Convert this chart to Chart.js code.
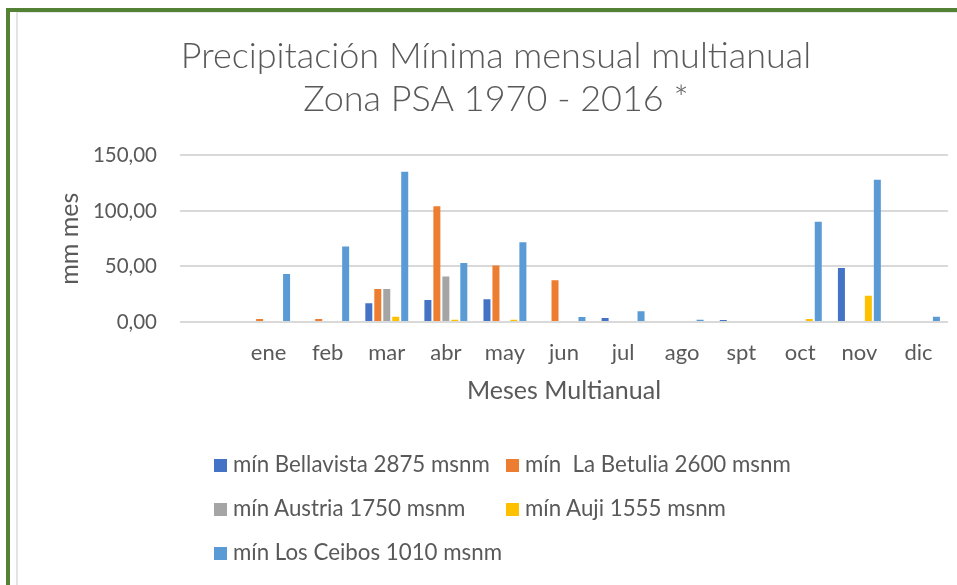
<!DOCTYPE html>
<html>
<head>
<meta charset="utf-8">
<script src="https://cdn.jsdelivr.net/npm/chart.js@4.4.1/dist/chart.umd.min.js"></script>
<style>
  body { margin: 0; background: #fff; }
  #wrap { position: relative; width: 957px; height: 585px; overflow: hidden; }
  #frame {
    position: absolute; left: 6px; top: 8px; width: 980px; height: 600px;
    border-left: 4px solid #548235; border-top: 4px solid #548235;
  }
  #inner {
    position: absolute; left: 16px; top: 12px; width: 980px; height: 600px;
    border-left: 2px solid #e3e3e3; border-top: 1px solid #e8e8e8;
  }
  canvas { position: absolute; left: 0; top: 0; }
  .leg {
    position: absolute; font-family: Lato, "Open Sans", sans-serif; font-size: 22.3px;
    color: #595959; line-height: 28px; white-space: pre;
  }
  .leg span.box {
    display: inline-block; width: 13px; height: 13px; margin-right: 6px; vertical-align: 0px;
  }
</style>
</head>
<body>
<div id="wrap">
  <div id="frame"></div>
  <div id="inner"></div>
  <canvas id="chart" width="957" height="585"></canvas>
  <div id="legend"></div>
</div>
<script>
// Categories (first slot is left empty in the original chart)
const months = ["", "ene", "feb", "mar", "abr", "may", "jun", "jul", "ago", "spt", "oct", "nov", "dic"];

// Minimum monthly precipitation (mm) per station
const bellavista = [null, null, null, 16.8, 19.8, 20.4, null, 3.6, null, 1.8, null, 48.7, null];
const laBetulia  = [null, 2.7, 2.7, 29.8, 104.3, 50.8, 37.6, null, null, null, null, null, null];
const austria    = [null, null, null, 29.8, 40.9, null, null, null, null, null, null, null, null];
const auji       = [null, null, null, 4.8, 2.1, 2.1, null, null, null, null, 2.7, 23.7, null];
const losCeibos  = [null, 43.3, 67.9, 135.3, 53.2, 71.8, 4.5, 9.6, 2.1, null, 90.2, 128.0, 4.8];

const seriesNames = [
  "mín Bellavista 2875 msnm",
  "mín  La Betulia 2600 msnm",
  "mín Austria 1750 msnm",
  "mín Auji 1555 msnm",
  "mín Los Ceibos 1010 msnm"
];
const seriesData = [bellavista, laBetulia, austria, auji, losCeibos];
const seriesColors = ["#4472C4", "#ED7D31", "#A5A5A5", "#FFC000", "#5B9BD5"];

const yTicks = [0, 50, 100, 150];

const textColor = "#595959";
const fontFamily = "Lato, 'Open Sans', sans-serif";

const ctx = document.getElementById("chart");
const chart = new Chart(ctx, {
  type: "bar",
  data: {
    labels: months,
    datasets: seriesData.map((d, i) => ({
      label: seriesNames[i],
      data: d,
      backgroundColor: seriesColors[i],
      borderWidth: 0,
      categoryPercentage: 0.76,
      barPercentage: 0.78,
    })),
  },
  options: {
    responsive: false,
    animation: false,
    layout: { padding: { left: 44, right: 9, top: 14, bottom: 173 } },
    plugins: {
      legend: { display: false },
      tooltip: { enabled: false },
      title: {
        display: true,
        text: ["Precipitación Mínima mensual multianual", "Zona PSA 1970 - 2016 *"],
        color: textColor,
        font: { family: fontFamily, size: 36, weight: "300", lineHeight: 1.2 },
        padding: { top: 21, bottom: 34 },
      },
    },
    scales: {
      x: {
        grid: { display: false, drawTicks: false },
        border: { display: false },
        ticks: {
          color: textColor,
          font: { family: fontFamily, size: 22 },
          padding: 18,
          maxRotation: 0,
          autoSkip: false,
        },
        title: {
          display: true,
          text: "Meses Multianual",
          color: textColor,
          font: { family: fontFamily, size: 25, lineHeight: 1.2 },
          padding: { top: 0, bottom: 6 },
        },
        afterFit: (s) => { s.height = 90; },
      },
      y: {
        min: 0,
        max: 150,
        afterBuildTicks: (s) => { s.ticks = yTicks.map((v) => ({ value: v })); },
        grid: { color: "#d9d9d9", lineWidth: 2, drawTicks: false },
        border: { display: false },
        ticks: {
          color: textColor,
          font: { family: fontFamily, size: 20.5 },
          padding: 23,
          callback: (v) => v.toFixed(2).replace(".", ","),
        },
        title: {
          display: true,
          text: "mm mes",
          color: textColor,
          font: { family: fontFamily, size: 25, lineHeight: 1.2 },
          padding: { top: 11, bottom: 0 },
        },
        afterFit: (s) => { s.width = 136; },
      },
    },
  },
});

// Legend laid out as a two-column grid like the original
const legendPos = [
  [214, 450], [506, 450],
  [214, 494], [506, 494],
  [214, 538],
];
const legend = document.getElementById("legend");
seriesNames.forEach((name, i) => {
  const item = document.createElement("div");
  item.className = "leg";
  item.style.left = legendPos[i][0] + "px";
  item.style.top = legendPos[i][1] + "px";
  const box = document.createElement("span");
  box.className = "box";
  box.style.background = seriesColors[i];
  item.appendChild(box);
  item.appendChild(document.createTextNode(name));
  legend.appendChild(item);
});
</script>
</body>
</html>
